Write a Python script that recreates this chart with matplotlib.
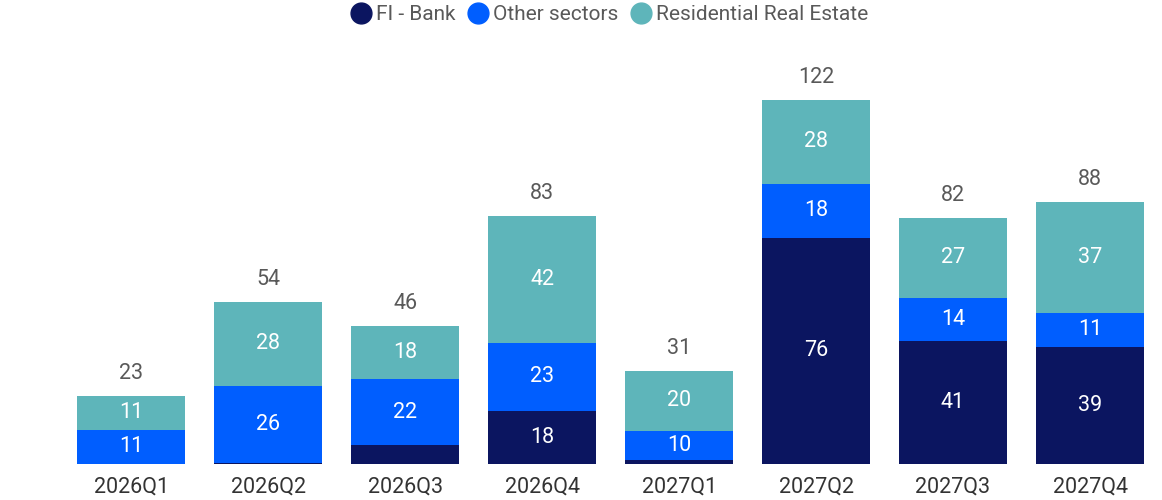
import matplotlib.pyplot as plt
import numpy as np

plt.rcParams['font.family'] = ['Roboto', 'DejaVu Sans']

quarters = ['2026Q1', '2026Q2', '2026Q3', '2026Q4', '2027Q1', '2027Q2', '2027Q3', '2027Q4']
fi_bank = [0.0, 0.4, 6.2, 17.8, 1.2, 75.8, 41.2, 39.2]
other_sectors = [11.4, 25.8, 22.2, 22.8, 9.8, 17.9, 14.4, 11.4]
residential = [11.4, 28.1, 17.8, 42.4, 20.3, 28.3, 26.8, 37.3]

series = [
    ('FI - Bank', fi_bank, '#0b1560'),
    ('Other sectors', other_sectors, '#005eff'),
    ('Residential Real Estate', residential, '#5eb5ba'),
]

fig = plt.figure(figsize=(11.62, 5), dpi=100)
ax = fig.add_axes([0.054, 0.072, 0.943, 0.848])

x = np.arange(len(quarters))
bottom = np.zeros(len(quarters))
for name, vals, color in series:
    vals = np.array(vals)
    ax.bar(x, vals, 0.79, bottom=bottom, color=color, label=name)
    # only label segments tall enough to hold the text
    for xi, b, v in zip(x, bottom, vals):
        if v >= 8:
            ax.text(xi, b + v / 2, f'{v:.0f}', ha='center', va='center',
                    color='white', fontsize=15.5)
    bottom += vals

# totals above each stack
for xi, tot in zip(x, bottom):
    ax.text(xi, tot + 4, f'{tot:.0f}', ha='center', va='bottom',
            color='#595959', fontsize=15.5)

ax.set_xlim(-0.5, len(quarters) - 0.5)
ax.set_ylim(0, 142)
ax.set_xticks(x)
ax.set_xticklabels(quarters, fontsize=15.5, color='#333333')
ax.tick_params(axis='x', length=0, pad=9)
ax.set_yticks([])
for s in ax.spines.values():
    s.set_visible(False)

handles = [plt.Line2D([], [], marker='o', linestyle='', markersize=15, color=c)
           for _, _, c in series]
fig.legend(handles, [n for n, _, _ in series], loc='upper center',
           bbox_to_anchor=(0.52, 1.027), ncol=3, frameon=False,
           fontsize=15, handletextpad=-0.3, columnspacing=0.1,
           labelcolor='#595959')

fig.savefig('out.png', dpi=100)
